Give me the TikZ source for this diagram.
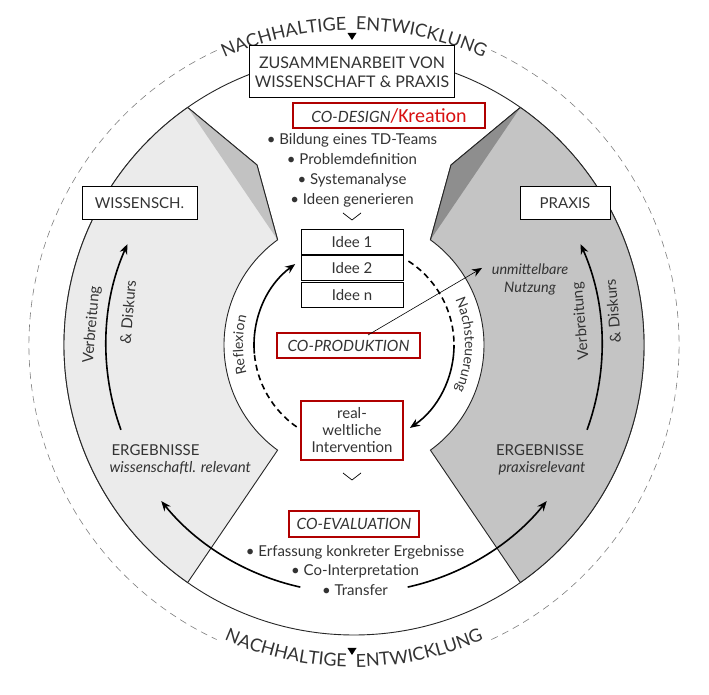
\documentclass[tikz,border=0pt]{standalone}
\usepackage{fontspec}
\setmainfont{Lato}
\newfontfamily\calib{Carlito}
\usetikzlibrary{arrows.meta,decorations.text,calc}
\definecolor{txt}{HTML}{333333}
\definecolor{boxred}{HTML}{B00000}
\definecolor{kred}{HTML}{D81010}
\definecolor{gl}{HTML}{EBEBEB}
\definecolor{gr}{HTML}{C4C4C4}
\definecolor{wl}{HTML}{C2C2C2}
\definecolor{wr}{HTML}{8E8E8E}
\begin{document}
\begin{tikzpicture}[x=1pt,y=1pt,
  txtf/.style={text=txt,font=\fontsize{15}{17}\selectfont},
  bbox/.style={draw=black,line width=1pt,fill=white,txtf,inner sep=0pt,align=center},
  rbox/.style={draw=boxred,line width=2.2pt,fill=white,txtf,inner sep=0pt,align=center,font=\fontsize{15.5}{17}\selectfont\itshape},
  arr/.style={line width=1.6pt,-{Stealth[length=10pt,width=8pt]}},
  outl/.style={line width=0.9pt,draw=black!85}]
\useasboundingbox (0,0) rectangle (709,695);
\fill[white] (0,0) rectangle (709,695);
\coordinate (C) at (354,350);
% dashed outer circle
\draw[gray,dash pattern=on 7pt off 5pt,line width=0.6pt] ($(C)+(115:325)$) arc[start angle=115,end angle=245,radius=325];
\draw[gray,dash pattern=on 7pt off 5pt,line width=0.6pt] ($(C)+(295:325)$) arc[start angle=295,end angle=425,radius=325];
\path[decorate,decoration={text along path,text align=center,text={|\fontsize{18}{18}\selectfont\color{txt}|NACHHALTIGE\ \ ENTWICKLUNG}}]
  ($(C)+(122:315)$) arc[start angle=122,end angle=58,radius=315];
\path[decorate,decoration={text along path,text align=center,text={|\fontsize{18}{18}\selectfont\color{txt}|NACHHALTIGE\ \ ENTWICKLUNG}}]
  ($(C)+(242:322)$) arc[start angle=242,end angle=298,radius=322];
\fill[black] (347.5,662) -- (356.5,662) -- (352,655) -- cycle;
\fill[black] (347.5,47) -- (356.5,47) -- (352,40) -- cycle;
% main circle
\draw[outl,fill=white] (C) circle[radius=290];
% gray regions
\filldraw[outl,fill=gl] ($(C)+(125:290)$) -- (257,530) -- ($(C)+(126:130)$) arc[start angle=126,end angle=234,radius=130]
  -- ($(C)+(235:290)$) arc[start angle=235,end angle=125,radius=290] -- cycle;
\fill[wl] ($(C)+(125:290)$) -- (257,530) -- ($(C)+(126:130)$) -- cycle;
\draw[outl] ($(C)+(125:290)$) -- (257,530) -- ($(C)+(126:130)$);
\filldraw[outl,fill=gr] ($(C)+(55:290)$) -- (451,530) -- ($(C)+(54:130)$) arc[start angle=54,end angle=-54,radius=130]
  -- ($(C)+(-55:290)$) arc[start angle=-55,end angle=55,radius=290] -- cycle;
\fill[wr] ($(C)+(55:290)$) -- (451,530) -- ($(C)+(54:130)$) -- cycle;
\draw[outl] ($(C)+(55:290)$) -- (451,530) -- ($(C)+(54:130)$);
% boxes
\node[bbox,minimum width=205pt,minimum height=52pt,font=\fontsize{16}{19}\selectfont] (zus) at (352,623) {ZUSAMMENARBEIT VON\\WISSENSCHAFT \& PRAXIS};
\node[rbox,minimum width=192pt,minimum height=25pt] (codesign) at (389,579.5) {CO-DESIGN{\upshape\calib\fontsize{20}{20}\selectfont\color{kred}/Kreation}};
\node[txtf,align=center,font=\fontsize{15}{20}\selectfont] (list1) at (352,524.5) {• Bildung eines TD-Teams\\• Problemdefinition\\• Systemanalyse\\• Ideen generieren};
\draw[line width=0.7pt] (343,482) -- (352,475) -- (361,482);
\node[bbox,minimum width=102pt,minimum height=25pt] (i1) at (352,453) {Idee 1};
\node[bbox,minimum width=102pt,minimum height=25pt] (i2) at (352,426.5) {Idee 2};
\node[bbox,minimum width=102pt,minimum height=25pt] (i3) at (352,400) {Idee n};
\node[rbox,minimum width=143pt,minimum height=25pt] (coprod) at (348.5,349.5) {CO-PRODUKTION};
\node[rbox,minimum width=102pt,minimum height=59pt,font=\fontsize{15}{17}\selectfont] (real) at (352,264.5) {real-\\weltliche\\Intervention};
\draw[line width=0.7pt] (343,222) -- (352,215) -- (361,222);
\node[rbox,minimum width=130pt,minimum height=26pt] (coeval) at (354,171) {CO-EVALUATION};
\node[txtf,align=center,font=\fontsize{15}{19.5}\selectfont] (list2) at (355,124.5) {• Erfassung konkreter Ergebnisse\\• Co-Interpretation\\• Transfer};
\node[bbox,minimum width=115pt,minimum height=33pt] (wiss) at (139.5,491.5) {WISSENSCH.};
\node[bbox,minimum width=90pt,minimum height=33pt] (praxis) at (565,491.5) {PRAXIS};
\node[txtf,anchor=west] (erg1) at (108,245) {ERGEBNISSE};
\node[txtf,anchor=west,font=\fontsize{15}{17}\selectfont\itshape] (erg1b) at (106,227) {wissenschaftl. relevant};
\node[txtf] (erg2) at (540,245) {ERGEBNISSE};
\node[txtf,font=\fontsize{15}{17}\selectfont\itshape] (erg2b) at (542,227) {praxisrelevant};
\node[txtf,align=center,font=\fontsize{14.5}{18}\selectfont\itshape] (nutz) at (530,416) {unmittelbare\\Nutzung};
% inner arrows
\draw[line width=1.6pt,dash pattern=on 6pt off 4pt] ($(C)+(235:100)$) arc[start angle=235,end angle=185,radius=100];
\draw[arr] ($(C)+(185:100)$) arc[start angle=185,end angle=126,radius=100];
\draw[line width=1.6pt,dash pattern=on 6pt off 4pt] ($(C)+(57:100)$) arc[start angle=57,end angle=0,radius=100];
\draw[arr] ($(C)+(0:100)$) arc[start angle=0,end angle=-56,radius=100];
\path[decorate,decoration={text along path,text align=center,text={|\fontsize{14}{14}\selectfont\color{txt}|Reflexion}}]
  ($(C)+(215:111)$) arc[start angle=215,end angle=145,radius=111];
\path[decorate,decoration={text along path,text align=center,text={|\fontsize{14}{14}\selectfont\color{txt}|Nachsteuerung}}]
  ($(C)+(50:111)$) arc[start angle=50,end angle=-50,radius=111];
\coordinate (ns) at (368,360);
\coordinate (ne) at (482,427);
\draw[line width=0.6pt,-{Stealth[length=10pt,width=8pt]}] (ns) -- (ne);
% outer arrows
\draw[arr] ($(C)+(200:248)$) arc[start angle=200,end angle=156,radius=248];
\draw[arr] ($(C)+(-20:248)$) arc[start angle=-20,end angle=24,radius=248];
\draw[arr] ($(C)+(257.5:248)$) arc[start angle=257.5,end angle=219,radius=248];
\draw[arr] ($(C)+(282.5:248)$) arc[start angle=282.5,end angle=321,radius=248];
\node[txtf,rotate=85] (vl1) at (92,370) {Verbreitung};
\node[txtf,rotate=85] (vl2) at (128,383) {\& Diskurs};
\node[txtf,rotate=95] (vr1) at (581,374) {Verbreitung};
\node[txtf,rotate=95] (vr2) at (613,384) {\& Diskurs};
\end{tikzpicture}
\end{document}
